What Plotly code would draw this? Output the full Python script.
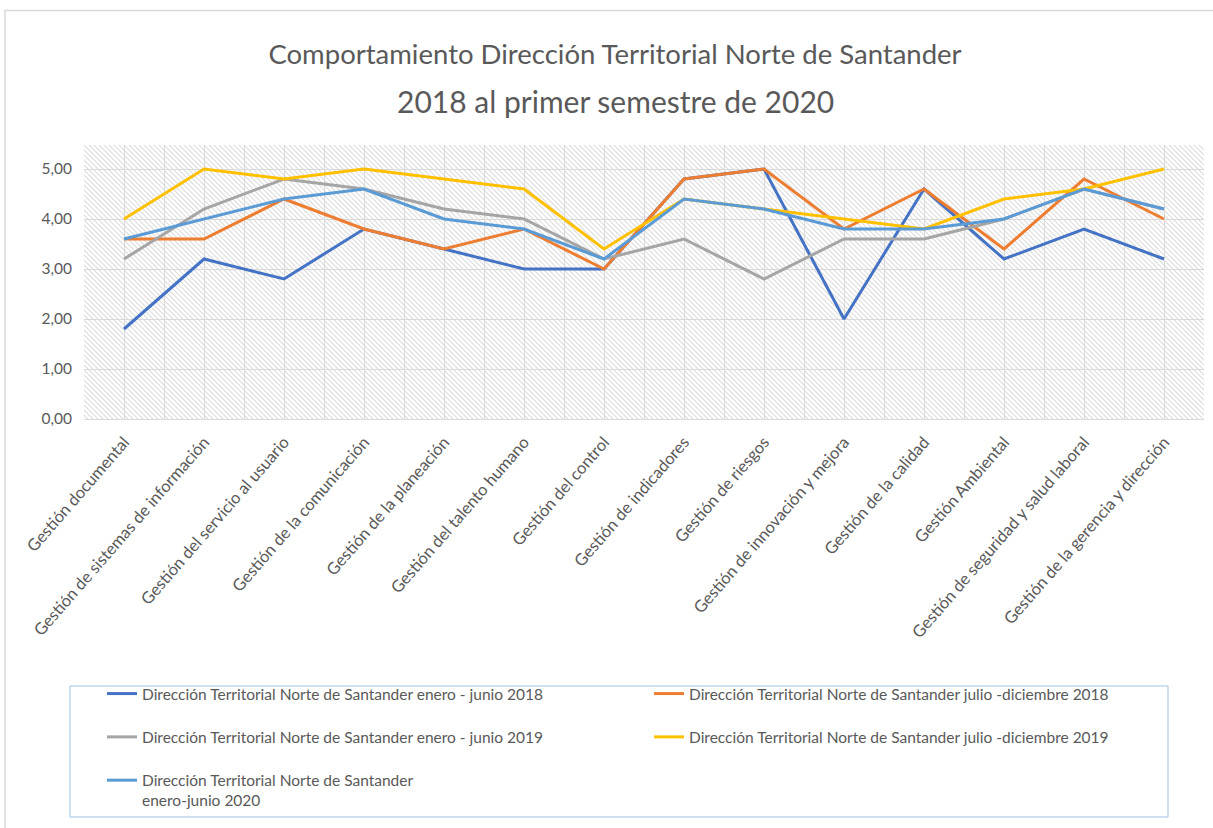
import base64
import plotly.graph_objects as go

# Procesos evaluados
categorias = [
    "Gestión documental",
    "Gestión de sistemas de información",
    "Gestión del servicio al usuario",
    "Gestión de la comunicación",
    "Gestión de la planeación",
    "Gestión del talento humano",
    "Gestión del control",
    "Gestión de indicadores",
    "Gestión de riesgos",
    "Gestión de innovación y mejora",
    "Gestión de la calidad",
    "Gestión Ambiental",
    "Gestión de seguridad y salud laboral",
    "Gestión de la gerencia y dirección",
]

# Calificaciones por periodo
ene_jun_2018 = [1.8, 3.2, 2.8, 3.8, 3.4, 3.0, 3.0, 4.8, 5.0, 2.0, 4.6, 3.2, 3.8, 3.2]
jul_dic_2018 = [3.6, 3.6, 4.4, 3.8, 3.4, 3.8, 3.0, 4.8, 5.0, 3.8, 4.6, 3.4, 4.8, 4.0]
ene_jun_2019 = [3.2, 4.2, 4.8, 4.6, 4.2, 4.0, 3.2, 3.6, 2.8, 3.6, 3.6, 4.0, 4.6, 4.2]
jul_dic_2019 = [4.0, 5.0, 4.8, 5.0, 4.8, 4.6, 3.4, 4.4, 4.2, 4.0, 3.8, 4.4, 4.6, 5.0]
ene_jun_2020 = [3.6, 4.0, 4.4, 4.6, 4.0, 3.8, 3.2, 4.4, 4.2, 3.8, 3.8, 4.0, 4.6, 4.2]

nombres = [
    "Dirección Territorial Norte de Santander enero - junio 2018",
    "Dirección Territorial Norte de Santander julio -diciembre 2018",
    "Dirección Territorial Norte de Santander enero - junio 2019",
    "Dirección Territorial Norte de Santander julio -diciembre 2019",
    "Dirección Territorial Norte de Santander<br>enero-junio 2020",
]
series = [ene_jun_2018, jul_dic_2018, ene_jun_2019, jul_dic_2019, ene_jun_2020]
colores = ["#4472C4", "#ED7D31", "#A5A5A5", "#FFC000", "#5B9BD5"]

titulo_1 = "Comportamiento Dirección Territorial Norte de Santander"
titulo_2 = "2018 al primer semestre de 2020"

W, H = 1213, 828
ML, MR, MT, MB = 84, 9, 145, 409
PW, PH = W - ML - MR, H - MT - MB

FONT = "Lato"
GRIS = "#595959"

x = list(range(len(categorias)))

fig = go.Figure()
for nombre, valores, color in zip(nombres, series, colores):
    etiqueta = nombre if "<br>" in nombre else nombre + "<br> "
    fig.add_trace(go.Scatter(
        x=x, y=valores, mode="lines", name=etiqueta,
        line=dict(color=color, width=3),
        hovertemplate="%{text}: %{y:.2f}<extra></extra>",
        text=categorias,
    ))

# Fondo rayado del área de trazado
svg = (
    f"<svg xmlns='http://www.w3.org/2000/svg' width='{PW}' height='{PH}'>"
    "<defs><pattern id='h' width='5' height='5' patternUnits='userSpaceOnUse'>"
    "<path d='M-1,-1 L6,6 M-1,4 L1,6 M4,-1 L6,1' stroke='#dcdcdc' stroke-width='1.1'/>"
    "</pattern></defs><rect width='100%' height='100%' fill='url(#h)'/></svg>"
)
fuente_svg = "data:image/svg+xml;base64," + base64.b64encode(svg.encode()).decode()
fig.add_layout_image(dict(
    source=fuente_svg, xref="paper", yref="paper", x=0, y=1,
    sizex=1, sizey=1, xanchor="left", yanchor="top",
    sizing="stretch", layer="below",
))


def px_x(p):
    return (p - ML) / PW


def px_y(p):
    return (H - MB - p) / PH


# Marco del gráfico y recuadro de la leyenda
fig.add_shape(type="rect", xref="paper", yref="paper",
              x0=px_x(5), x1=px_x(1225), y0=px_y(840), y1=px_y(10.5),
              line=dict(color="#D9D9D9", width=1.5), fillcolor="rgba(0,0,0,0)")
fig.add_shape(type="rect", xref="paper", yref="paper",
              x0=px_x(70), x1=px_x(1168), y0=px_y(817), y1=px_y(686),
              line=dict(color="#9DC3E6", width=1), fillcolor="rgba(0,0,0,0)")

fig.add_annotation(text=titulo_2, xref="paper", yref="paper",
                   x=px_x(615), y=px_y(101), xanchor="center", yanchor="middle",
                   showarrow=False,
                   font=dict(family=FONT, size=30, color=GRIS))

fig.update_layout(
    width=W, height=H,
    margin=dict(l=ML, r=MR, t=MT, b=MB),
    paper_bgcolor="white", plot_bgcolor="white",
    font=dict(family=FONT, color=GRIS),
    title=dict(text=titulo_1, x=615 / W, xanchor="center",
               y=1 - 54 / H, yanchor="middle",
               font=dict(family=FONT, size=27.5, color=GRIS)),
    showlegend=True,
    legend=dict(
        orientation="h", x=px_x(102), xanchor="left",
        y=px_y(677), yanchor="top",
        entrywidth=502, entrywidthmode="pixels",
        valign="top", font=dict(family=FONT, size=15.5, color=GRIS),
        bgcolor="rgba(0,0,0,0)", borderwidth=0,
        traceorder="normal",
    ),
    xaxis=dict(
        range=[-0.5, len(categorias) - 0.5],
        tickmode="array", tickvals=x, ticktext=categorias,
        tickangle=-49, tickfont=dict(family=FONT, size=16.5, color=GRIS),
        ticklabelstandoff=6,
        showgrid=True, gridcolor="#D9D9D9", gridwidth=1,
        minor=dict(tickvals=[i - 0.5 for i in range(len(categorias) + 1)],
                   showgrid=True, gridcolor="#D9D9D9", gridwidth=1, ticks=""),
        showline=True, linecolor="#D9D9D9", linewidth=1,
        ticks="", zeroline=False, fixedrange=True,
    ),
    yaxis=dict(
        range=[0, 5.48], tickmode="array",
        tickvals=[0, 1, 2, 3, 4, 5], tickformat=".2f",
        tickfont=dict(family=FONT, size=15.5, color=GRIS),
        showgrid=True, gridcolor="#D9D9D9", gridwidth=1,
        zeroline=False, ticks="", ticklabelstandoff=11, fixedrange=True,
    ),
    separators=",.",
)

fig.write_html("out.html")
